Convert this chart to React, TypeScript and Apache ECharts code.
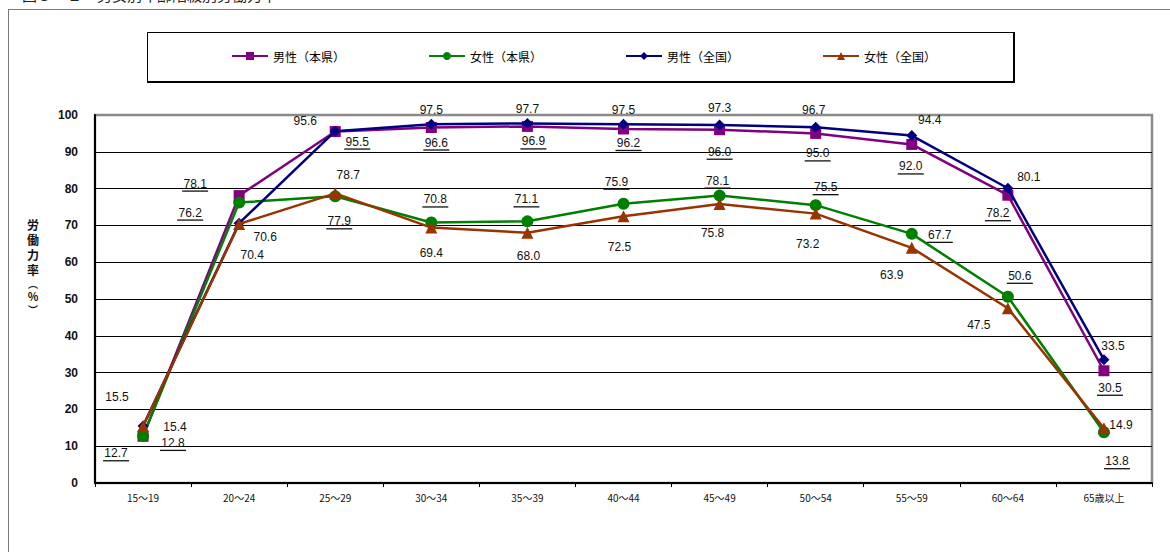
import React, { useEffect, useRef } from 'react';
import * as echarts from 'echarts';

const categories = ['15～19', '20～24', '25～29', '30～34', '35～39', '40～44', '45～49', '50～54', '55～59', '60～64', '65歳以上'];

const seriesNames = ['男性（本県）', '女性（本県）', '男性（全国）', '女性（全国）'];

const maleLocal = [12.7, 78.1, 95.5, 96.6, 96.9, 96.2, 96.0, 95.0, 92.0, 78.2, 30.5];
const femaleLocal = [12.8, 76.2, 77.9, 70.8, 71.1, 75.9, 78.1, 75.5, 67.7, 50.6, 13.8];
const maleNational = [15.5, 70.6, 95.6, 97.5, 97.7, 97.5, 97.3, 96.7, 94.4, 80.1, 33.5];
const femaleNational = [15.4, 70.4, 78.7, 69.4, 68.0, 72.5, 75.8, 73.2, 63.9, 47.5, 14.9];

const yTicks = [0, 10, 20, 30, 40, 50, 60, 70, 80, 90, 100];

// label placement (layout only)
const maleLocalOffsets = [[-27, 18], [-44, -11], [22, 11], [5, 16], [6, 16], [5, 15], [0, 23], [2, 21], [-1, 23], [-10, 19], [6, 18]];
const femaleLocalOffsets = [[30, 8], [-49, 11], [4, 26], [4, -22], [-1, -21], [-7, -21], [-2, -14], [10, -17], [28, 2], [12, -20], [13, 30]];
const maleNationalOffsets = [[-26, -29], [26, 14], [-30, -10], [0, -14], [0, -14], [0, -14], [0, -17], [-2, -17], [18, -16], [21, -11], [9, -14]];
const femaleNationalOffsets = [[32, 1], [13, 31], [13, -18], [0, 25], [1, 23], [-4, 31], [-7, 29], [-8, 30], [-20, 27], [-29, 17], [17, -3]];

const colors = ['#800080', '#008000', '#000080', '#993300'];
const symbols = ['rect', 'circle', 'diamond', 'triangle'];
const symbolSizes = [11, 12, 11, 12];

const labelFont = 'Liberation Sans, Arial, sans-serif';
const cjkFont = '"Noto Sans CJK JP", sans-serif';

// vertical axis title glyphs: [char, centre y, font size]
const yNameGlyphs: [string, number, number][] = [
  ['労', 224, 12],
  ['働', 239, 12],
  ['力', 254, 12],
  ['率', 269, 12],
  ['︵', 283, 10],
  ['%', 296, 11],
  ['︶', 309, 10],
];

function makeSeries(idx: number, values: number[], offsets: number[][], underline: boolean) {
  return {
    name: seriesNames[idx],
    type: 'line',
    data: values.map((v, i) => ({ value: v, label: { offset: offsets[i] } })),
    symbol: symbols[idx],
    symbolSize: symbolSizes[idx],
    showAllSymbol: true,
    lineStyle: { color: colors[idx], width: 2.5 },
    itemStyle: { color: colors[idx] },
    z: 2 + idx,
    label: {
      show: true,
      position: 'inside',
      align: 'center',
      verticalAlign: 'middle',
      formatter: underline
        ? (p: any) => `{v|${Number(p.value).toFixed(1)}}\n{u| }`
        : (p: any) => Number(p.value).toFixed(1),
      fontFamily: labelFont,
      fontSize: 12,
      color: '#111',
      rich: {
        v: { fontFamily: labelFont, fontSize: 12, color: '#111', lineHeight: 13, align: 'center' },
        u: { width: 26, height: 1.3, lineHeight: 2, fontSize: 1, backgroundColor: '#111', align: 'center' },
      },
    },
    emphasis: { disabled: true },
  };
}

const legendLeft = [231, 428, 625, 822];

export default function App() {
  const ref = useRef<HTMLDivElement>(null);
  useEffect(() => {
    const chart = echarts.init(ref.current!, null, { renderer: 'svg' });
    const option: any = {
      animation: false,
      backgroundColor: '#fff',
      textStyle: { fontFamily: labelFont },
      grid: {
        left: 95,
        right: 18,
        top: 115,
        bottom: 69,
        show: true,
        borderColor: '#8a8a8a',
        borderWidth: 2.5,
        backgroundColor: 'transparent',
      },
      legend: seriesNames.map((n, i) => ({
        data: [n],
        left: legendLeft[i],
        top: 50,
        padding: 0,
        itemWidth: 36,
        itemHeight: 10,
        selectedMode: false,
        textStyle: { fontFamily: cjkFont, fontSize: 12, color: '#000' },
      })),
      xAxis: {
        type: 'category',
        data: categories,
        boundaryGap: true,
        axisLine: { lineStyle: { color: '#000', width: 2 } },
        axisTick: { show: true, length: 4, lineStyle: { color: '#000', width: 1 } },
        axisLabel: { fontSize: 10, color: '#111', margin: 9, fontFamily: cjkFont, interval: 0 },
        splitLine: { show: false },
      },
      yAxis: {
        type: 'value',
        min: yTicks[0],
        max: yTicks[yTicks.length - 1],
        interval: 10,
        axisLine: { show: true, lineStyle: { color: '#000', width: 2 } },
        axisTick: { show: false },
        axisLabel: { fontSize: 12, fontWeight: 'bold', color: '#111', margin: 17, fontFamily: labelFont },
        splitLine: {
          show: true,
          lineStyle: {
            color: ['#000', '#000', '#000', '#000', '#000', '#000', '#000', '#000', '#000', '#000', '#8a8a8a'],
            width: 1.2,
          },
        },
      },
      graphic: [
        {
          type: 'line',
          shape: { x1: 8, y1: 9.5, x2: 1170, y2: 9.5 },
          style: { stroke: '#7a7a7a', lineWidth: 1 },
          silent: true,
        },
        {
          type: 'line',
          shape: { x1: 8.5, y1: 9, x2: 8.5, y2: 552 },
          style: { stroke: '#7a7a7a', lineWidth: 1 },
          silent: true,
        },
        {
          type: 'text',
          left: 22,
          top: -13,
          style: { text: '図３－２　男女別年齢階級別労働力率', font: `15px ${cjkFont}`, fill: '#222' },
          silent: true,
        },
        {
          type: 'rect',
          shape: { x: 147.5, y: 32.5, width: 866, height: 49 },
          style: { fill: '#fff', stroke: '#000', lineWidth: 1 },
          z: -1,
          silent: true,
        },
        {
          type: 'line',
          shape: { x1: 147, y1: 82, x2: 1015, y2: 82 },
          style: { stroke: '#000', lineWidth: 2 },
          silent: true,
        },
        {
          type: 'line',
          shape: { x1: 1014, y1: 32, x2: 1014, y2: 83 },
          style: { stroke: '#000', lineWidth: 2 },
          silent: true,
        },
        ...yNameGlyphs.map(([ch, y, size]) => ({
          type: 'text',
          x: 33,
          y,
          style: {
            text: ch,
            font: `bold ${size}px ${cjkFont}`,
            fill: '#111',
            align: 'center',
            verticalAlign: 'middle',
          },
          silent: true,
        })),
      ],
      series: [
        makeSeries(0, maleLocal, maleLocalOffsets, true),
        makeSeries(1, femaleLocal, femaleLocalOffsets, true),
        makeSeries(2, maleNational, maleNationalOffsets, false),
        makeSeries(3, femaleNational, femaleNationalOffsets, false),
      ],
    };
    chart.setOption(option);
    return () => chart.dispose();
  }, []);
  return (
    <div
      ref={ref}
      style={{ position: 'absolute', left: 0, top: 0, width: 1170, height: 552, background: '#fff' }}
    />
  );
}
